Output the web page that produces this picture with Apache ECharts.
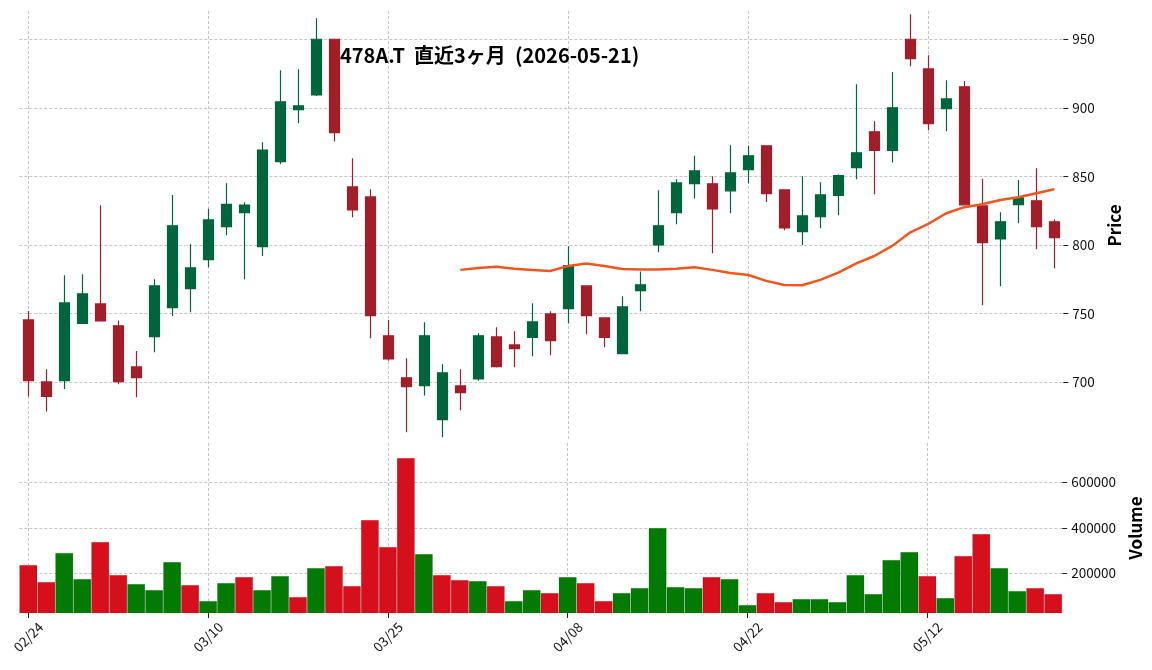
<!DOCTYPE html>
<html><head><meta charset="utf-8">
<script src="https://cdn.jsdelivr.net/npm/echarts@6/dist/echarts.min.js"></script>
<style>html,body{margin:0;padding:0;background:#fff}#c{width:1152px;height:670px}</style>
</head><body><div id="c"></div>
<script>
const dates = ['02/24','02/25','02/26','02/27','03/02','03/03','03/04','03/05','03/06','03/09',
'03/10','03/11','03/12','03/13','03/16','03/17','03/18','03/19','03/23','03/24',
'03/25','03/26','03/27','03/30','03/31','04/01','04/02','04/03','04/06','04/07',
'04/08','04/09','04/10','04/13','04/14','04/15','04/16','04/17','04/20','04/21',
'04/22','04/23','04/24','04/27','04/28','04/30','05/01','05/07','05/08','05/11',
'05/12','05/13','05/14','05/15','05/18','05/19','05/20','05/21'];
const opens  = [745.4,700.2,701.2,742.8,757.1,741.1,711.2,733.3,754.4,768.3,
789.4,813.5,823.7,798.9,860.8,898.7,909.4,950.0,842.4,835.1,
733.8,703.2,697.6,672.8,697.3,702.4,733.0,727.2,732.6,749.8,
753.7,770.2,746.9,720.9,766.8,800.1,823.7,844.8,844.6,839.5,
855.0,872.3,840.2,809.8,820.7,836.1,856.5,882.5,868.9,950.0,
928.4,899.5,915.3,828.5,804.5,829.5,832.2,816.9];
const closes = [701.2,689.6,757.8,764.4,744.7,700.5,703.4,770.2,814.0,783.3,
818.3,829.6,829.2,869.3,904.3,901.4,950.0,882.0,825.6,748.6,
717.0,696.8,733.8,706.8,692.5,733.8,711.4,724.5,744.0,730.4,
785.0,748.6,732.6,754.9,771.0,814.0,845.3,854.0,826.3,852.6,
865.0,837.5,812.5,821.2,836.5,850.6,867.2,868.9,900.0,935.9,
888.5,906.5,829.3,801.8,816.9,834.4,813.5,805.4];
const lows   = [689.6,678.6,695.1,742.8,744.7,698.5,689.1,721.9,748.3,751.0,
783.8,807.1,775.1,792.1,858.9,888.8,908.7,875.4,820.3,732.1,
715.6,663.6,690.3,659.9,679.6,701.0,710.7,710.9,719.0,719.7,
743.0,735.0,725.5,720.9,751.7,794.8,815.2,833.9,794.0,823.2,
845.0,831.4,810.8,800.0,812.2,821.7,848.0,837.0,860.1,930.3,
883.7,883.0,829.3,756.1,770.0,815.9,797.0,783.1];
const highs  = [752.0,709.5,778.0,778.7,829.0,745.0,722.8,775.1,836.5,800.6,
826.3,845.0,831.2,874.9,927.4,928.1,965.3,950.0,863.3,840.7,
745.4,717.5,743.7,713.1,709.5,735.7,740.1,737.2,757.6,751.7,
799.1,770.2,746.9,762.7,780.7,840.0,848.0,865.0,850.1,872.7,
872.3,872.3,840.2,850.1,845.8,851.4,917.2,890.2,926.2,968.2,
938.3,920.1,919.6,848.4,823.9,847.5,856.0,818.8];
const volumes = [236600,161900,289400,175100,337700,192700,153100,126700,249800,148700,
78400,157500,183900,126700,188300,96000,223400,232200,144300,434400,
315700,707000,285000,192700,170700,166300,144300,78400,126700,113600,
183900,157500,78400,113600,135500,399300,139900,135500,183900,175100,
60800,113600,74000,87200,87200,74000,192700,109200,258600,293800,
188300,91600,276200,372900,223400,122300,135500,109200];
const ma25 = [null,null,null,null,null,null,null,null,null,null,
null,null,null,null,null,null,null,null,null,null,
null,null,null,null,781.9,783.3,784.1,782.8,781.9,781.1,
784.8,786.5,784.8,782.6,782.1,782.1,782.8,783.8,781.9,779.6,
778.2,773.9,770.9,770.7,774.6,779.9,786.7,792.0,799.4,809.3,
815.4,823.2,827.6,829.7,832.9,834.8,837.8,840.7];
const priceTicks = [700,750,800,850,900,950];
const volumeTicks = [200000,400000,600000];
const titleText = '478A.T  直近3ヶ月  (2026-05-21)';

const UP = '#00643c', DOWN = '#a11f2a', VUP = '#037a03', VDOWN = '#d50f1b';
const FONT = 'Noto Sans CJK JP';
const candleData = dates.map((d, i) => [opens[i], closes[i], lows[i], highs[i]]);
const volData = volumes.map((v, i) => ({
  value: v,
  itemStyle: { color: (i > 0 && closes[i] > closes[i - 1]) ? VUP : VDOWN }
}));
const grid = { type: [3, 2], color: '#b8b8b8', width: 0.8 };
const chart = echarts.init(document.getElementById('c'), null, { renderer: 'canvas' });
chart.setOption({
  animation: false,
  backgroundColor: '#fff',
  textStyle: { fontFamily: FONT },
  title: {
    text: titleText, left: 340, top: 45, padding: 0,
    textStyle: { fontFamily: FONT, fontWeight: 'bold', fontSize: 20, color: '#000' }
  },
  grid: [
    { left: 19.3, right: 88.7, top: 11, height: 429 },
    { left: 19.3, right: 88.7, top: 443, height: 170 }
  ],
  xAxis: [
    { type: 'category', gridIndex: 0, data: dates, boundaryGap: true,
      axisLine: { show: false }, axisTick: { show: false }, axisLabel: { show: false },
      splitLine: { show: true, interval: 9, alignWithLabel: true, lineStyle: grid } },
    { type: 'category', gridIndex: 1, data: dates, boundaryGap: true,
      axisLine: { show: false },
      axisTick: { show: true, interval: 9, alignWithLabel: true, length: 5, lineStyle: { color: '#222', width: 1 } },
      axisLabel: { interval: 9, rotate: 45, align: 'center', verticalAlign: 'middle', margin: 24,
        fontSize: 13.5, color: '#111', fontFamily: FONT },
      splitLine: { show: true, interval: 9, alignWithLabel: true, lineStyle: grid } }
  ],
  yAxis: [
    { type: 'value', gridIndex: 0, position: 'right', min: 657.9, max: 970.6, scale: true,
      axisLine: { show: false },
      axisTick: { show: true, customValues: priceTicks, length: 5, lineStyle: { color: '#222', width: 1 } },
      axisLabel: { customValues: priceTicks, fontSize: 13.5, color: '#111', margin: 9, fontFamily: FONT },
      splitLine: { show: true, lineStyle: grid },
      name: 'Price', nameLocation: 'middle', nameRotate: 90, nameGap: 36,
      nameTextStyle: { fontWeight: 'bold', fontSize: 17, color: '#000', fontFamily: FONT } },
    { type: 'value', gridIndex: 1, position: 'right', min: 25500, max: 772750,
      axisLine: { show: false },
      axisTick: { show: true, customValues: volumeTicks, length: 5, lineStyle: { color: '#222', width: 1 } },
      axisLabel: { customValues: volumeTicks, fontSize: 13.5, color: '#111', margin: 9, fontFamily: FONT,
        formatter: v => String(Math.round(v)) },
      splitLine: { show: true, lineStyle: grid },
      name: 'Volume', nameLocation: 'middle', nameRotate: 90, nameGap: 60,
      nameTextStyle: { fontWeight: 'bold', fontSize: 17, color: '#000', fontFamily: FONT } }
  ],
  series: [
    { type: 'candlestick', xAxisIndex: 0, yAxisIndex: 0, data: candleData, barWidth: 11,
      itemStyle: { color: UP, color0: DOWN, borderColor: UP, borderColor0: DOWN, borderWidth: 1.2 } },
    { type: 'line', xAxisIndex: 0, yAxisIndex: 0, data: ma25, showSymbol: false, symbol: 'none',
      lineStyle: { color: '#f0561d', width: 2.5 }, z: 5 },
    { type: 'bar', xAxisIndex: 1, yAxisIndex: 1, data: volData, barCategoryGap: '0%',
      itemStyle: { borderColor: 'rgba(0,0,0,0.12)', borderWidth: 0.6 } }
  ]
});
</script></body></html>
